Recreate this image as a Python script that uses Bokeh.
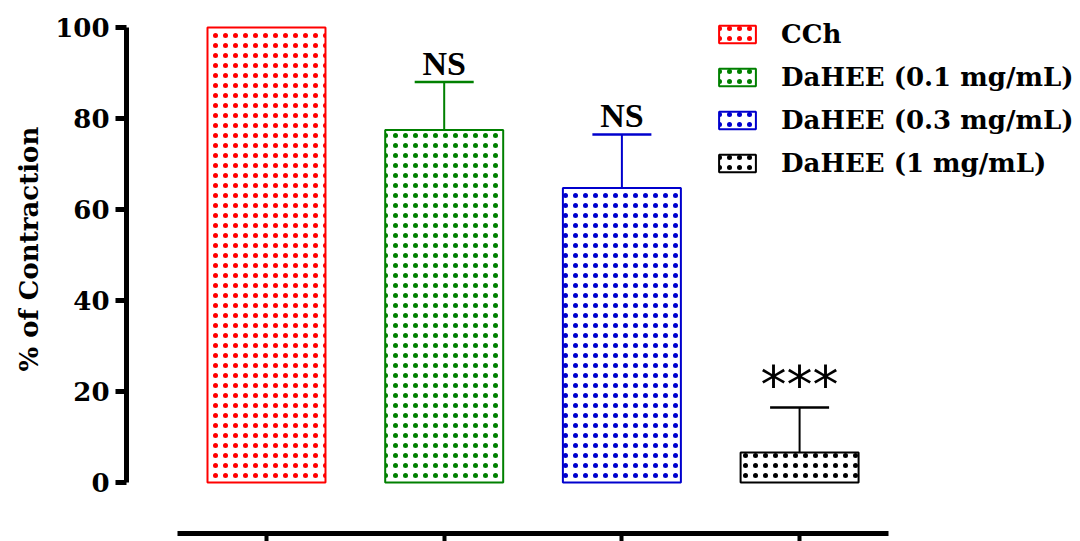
from bokeh.plotting import figure
from bokeh.models import (ColumnDataSource, Range1d, FixedTicker, Legend, LegendItem,
                          Whisker, TeeHead, Title)
from bokeh.core.properties import value
from bokeh.embed import file_html
from bokeh.resources import INLINE

# ---- data ----
categories = ["CCh", "DaHEE (0.1 mg/mL)", "DaHEE (0.3 mg/mL)", "DaHEE (1 mg/mL)"]
means = [100.0, 77.5, 64.7, 6.6]
errors = [0.0, 10.5, 11.8, 9.9]
annotations = ["", "NS", "NS", "***"]
colors = ["#FF0000", "#008000", "#0000CD", "#000000"]
y_ticks = [0, 20, 40, 60, 80, 100]
y_title = "% of Contraction"

xs = [i + 1 for i in range(len(categories))]

# x range: 0.2122 at frame left (px 126), 177.7 px per category
x_end = 0.2122 + 954 / 177.7

p = figure(frame_width=954, frame_height=515, output_backend="svg", toolbar_location=None,
           x_range=Range1d(0.2122, x_end), y_range=Range1d(-11.21, 101.98),
           min_border_left=126, min_border_top=18, min_border_right=0, min_border_bottom=0,
           background_fill_color="white", border_fill_color="white")
p.outline_line_color = None
p.xgrid.visible = False
p.ygrid.visible = False

legend_items = []
for i, cat in enumerate(categories):
    src = ColumnDataSource(dict(x=[xs[i]], top=[means[i]]))
    r = p.vbar(x="x", top="top", bottom=0, width=0.664, source=src,
               fill_color="white", line_color=colors[i], line_width=2,
               hatch_pattern=".", hatch_color=colors[i], hatch_scale=10, hatch_weight=0.9)
    legend_items.append(LegendItem(label=cat, renderers=[r]))
    if errors[i] > 0:
        wsrc = ColumnDataSource(dict(x=[xs[i]], lower=[means[i]], upper=[means[i] + errors[i]]))
        w = Whisker(source=wsrc, base="x", lower="lower", upper="upper", dimension="height",
                    line_color=colors[i], line_width=2, lower_head=None,
                    upper_head=TeeHead(size=59, line_color=colors[i], line_width=2.5))
        p.add_layout(w)

# annotations
ns_idx = [i for i, a in enumerate(annotations) if a == "NS"]
st_idx = [i for i, a in enumerate(annotations) if a == "***"]
ns_src = ColumnDataSource(dict(x=[xs[i] for i in ns_idx],
                               y=[means[i] + errors[i] for i in ns_idx],
                               t=[annotations[i] for i in ns_idx]))
st_src = ColumnDataSource(dict(x=[xs[i] for i in st_idx],
                               y=[means[i] + errors[i] - 1.6 for i in st_idx],
                               t=[annotations[i] for i in st_idx]))
p.text(x="x", y="y", text="t", source=ns_src, text_font=value("Liberation Serif"),
       text_font_style="bold", text_font_size="34px", text_align="center",
       text_baseline="bottom", text_color="black")
p.text(x="x", y="y", text="t", source=st_src, text_font=value("DejaVu Sans"),
       text_font_size="52px", text_align="center", text_baseline="bottom",
       text_color="black")

# y axis
ya = p.yaxis[0]
ya.ticker = FixedTicker(ticks=y_ticks)
ya.bounds = (0, 100)
ya.axis_line_width = 5
ya.axis_line_color = "black"
ya.major_tick_line_width = 5
ya.major_tick_out = 11
ya.major_tick_in = 0
ya.minor_tick_line_color = None
ya.major_label_text_font = "DejaVu Serif"
ya.major_label_text_font_style = "bold"
ya.major_label_text_font_size = "26px"
ya.major_label_text_color = "black"
ya.major_label_standoff = 6

# y axis title as a side-panel title, shifted to sit centred on 0..100
ytitle = Title(text=y_title, align="left", offset=162, standoff=18,
               text_font="DejaVu Serif", text_font_style="bold", text_font_size="26px",
               text_color="black")
p.add_layout(ytitle, "left")

# x axis
xa = p.xaxis[0]
xa.ticker = FixedTicker(ticks=xs)
xa.bounds = (0.5, 4.5)
xa.axis_line_width = 5
xa.axis_line_color = "black"
xa.major_tick_line_width = 4
xa.major_tick_out = 8
xa.major_tick_in = 0
xa.minor_tick_line_color = None
xa.major_label_overrides = {x: "" for x in xs}
xa.major_label_text_font_size = "1px"
xa.major_label_standoff = 0

legend = Legend(items=legend_items, location=(588, 355),
                glyph_width=46, glyph_height=22, label_standoff=21,
                label_text_font="DejaVu Serif",
                label_text_font_style="bold", label_text_font_size="26px",
                label_text_color="black", spacing=13, padding=0, margin=0,
                border_line_color=None, background_fill_alpha=0)
p.add_layout(legend)

open("out.html", "w").write(file_html(p, INLINE))
